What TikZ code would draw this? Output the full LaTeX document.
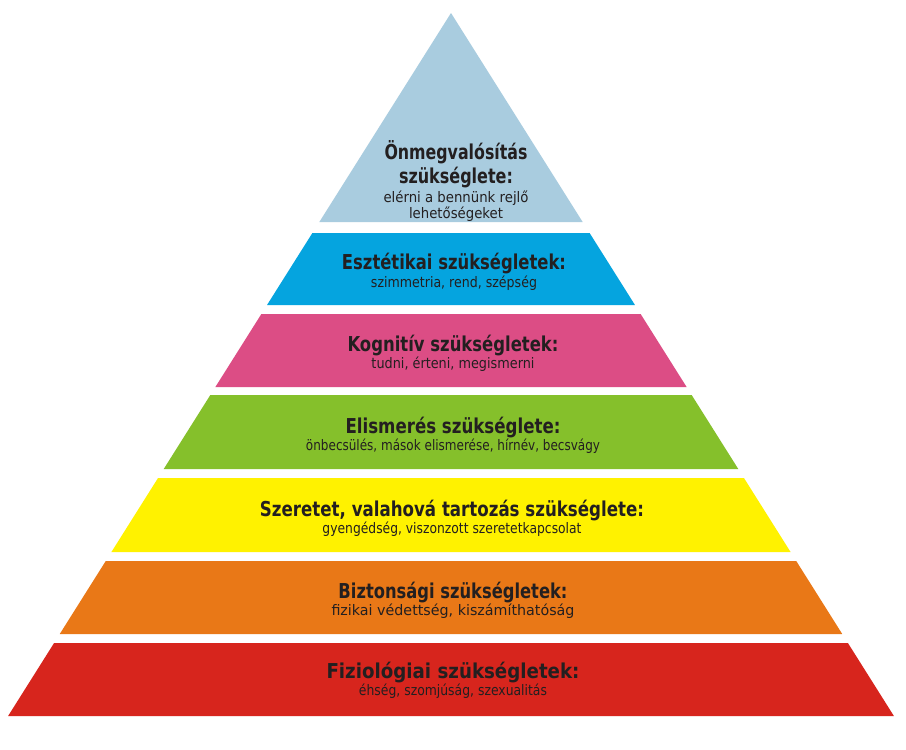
\documentclass[tikz,border=0pt]{standalone}
\usepackage{fontspec}
\setmainfont{DejaVu Sans}
\usepackage{graphicx}
\definecolor{ctop}{HTML}{A9CCDF}
\definecolor{cblue}{HTML}{05A4DF}
\definecolor{cpink}{HTML}{DC4D85}
\definecolor{cgreen}{HTML}{85C02B}
\definecolor{cyellow}{HTML}{FFF200}
\definecolor{corange}{HTML}{E97817}
\definecolor{cred}{HTML}{D7251D}
\definecolor{ctext}{HTML}{231F20}
\newcommand\fitw[2]{\resizebox{#1pt}{\height}{#2}}
\newcommand\pyrband[3]{%
  \fill[#3] ({451-0.63*(#1-13)},#1) -- ({451+0.63*(#1-13)},#1) --
    ({451+0.63*(#2-13)},#2) -- ({451-0.63*(#2-13)},#2) -- cycle;}
\tikzset{
  titletext/.style={anchor=base, inner sep=0pt, text=ctext, font=\fontsize{20.5}{23}\selectfont\bfseries},
  subtext/.style={anchor=base, inner sep=0pt, text=ctext, font=\fontsize{14.5}{17}\selectfont}
}
\begin{document}
\begin{tikzpicture}[x=1pt,y=-1pt]
\useasboundingbox (0,0) rectangle (906,750);
\fill[white] (0,0) rectangle (906,750);
% bands
\fill[ctop] (451,13) -- ({451+0.63*209},222) -- ({451-0.63*209},222) -- cycle;
\pyrband{233}{305}{cblue}
\pyrband{314}{387}{cpink}
\pyrband{395}{469}{cgreen}
\pyrband{478}{552}{cyellow}
\pyrband{561}{634}{corange}
\pyrband{643}{716}{cred}
% top
\node[titletext] (t1a) at (456,159) {\fitw{143}{Önmegvalósítás}};
\node[titletext] (t1b) at (456,183) {\fitw{114}{szükséglete:}};
\node[subtext] (t1c) at (456,202) {\fitw{145}{elérni a bennünk rejlő}};
\node[subtext] (t1d) at (456,218) {\fitw{94}{lehetőségeket}};
% blue
\node[titletext] (t2a) at (454,269) {\fitw{224}{Esztétikai szükségletek:}};
\node[subtext] (t2b) at (454,287) {\fitw{166}{szimmetria, rend, szépség}};
% pink
\node[titletext] (t3a) at (453,351) {\fitw{211}{Kognitív szükségletek:}};
\node[subtext] (t3b) at (453,368) {\fitw{163}{tudni, érteni, megismerni}};
% green
\node[titletext] (t4a) at (453,433) {\fitw{215}{Elismerés szükséglete:}};
\node[subtext] (t4b) at (453,450) {\fitw{294}{önbecsülés, mások elismerése, hírnév, becsvágy}};
% yellow
\node[titletext] (t5a) at (452,516) {\fitw{384}{Szeretet, valahová tartozás szükséglete:}};
\node[subtext] (t5b) at (452,533) {\fitw{259}{gyengédség, viszonzott szeretetkapcsolat}};
% orange
\node[titletext] (t6a) at (453,598) {\fitw{229}{Biztonsági szükségletek:}};
\node[subtext] (t6b) at (453,615) {\fitw{243}{fizikai védettség, kiszámíthatóság}};
% red
\node[titletext] (t7a) at (453,678) {\fitw{253}{Fiziológiai szükségletek:}};
\node[subtext] (t7b) at (453,695) {\fitw{188}{éhség, szomjúság, szexualitás}};
\end{tikzpicture}
\end{document}
